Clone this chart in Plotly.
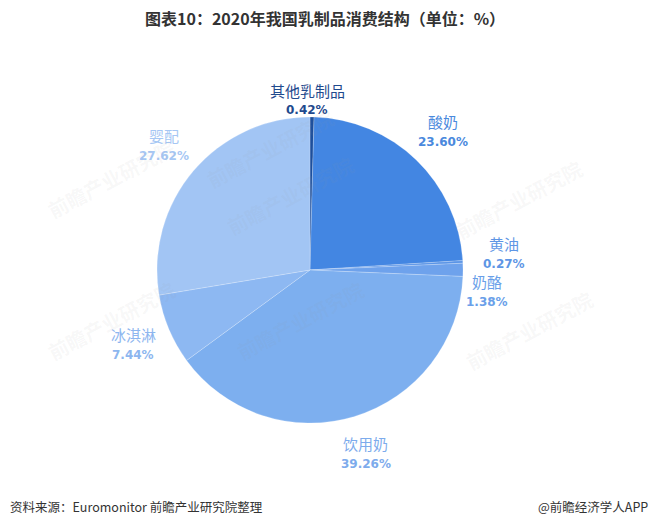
import math
import plotly.graph_objects as go

categories = ["其他乳制品", "酸奶", "黄油", "奶酪", "饮用奶", "冰淇淋", "婴配"]
values = [0.42, 23.60, 0.27, 1.38, 39.26, 7.44, 27.62]
pct_labels = ["0.42%", "23.60%", "0.27%", "1.38%", "39.26%", "7.44%", "27.62%"]

slice_colors = ["#1d4f9c", "#4386e2", "#5a94e6", "#6ea2ec", "#7dafef", "#8db8f2", "#a2c5f4"]
label_colors = ["#1f4a8e", "#4a89dd", "#5e96e5", "#6a9fe9", "#7dabec", "#8db6ef", "#a6c7f4"]

W, H = 654, 526
cx, cy, R = 310, 270, 153

fig = go.Figure()
fig.add_trace(go.Pie(
    labels=categories, values=values, sort=False, direction="clockwise", rotation=0,
    marker=dict(colors=slice_colors, line=dict(color="rgba(255,255,255,0.35)", width=0.6)),
    textinfo="none", hoverinfo="label+percent", showlegend=False,
    domain=dict(x=[(cx - R) / W, (cx + R) / W], y=[1 - (cy + R) / H, 1 - (cy - R) / H]),
))

# label placement computed from slice mid-angles
nudge = {0: (0, 0, 170), 2: (0, -6, 194), 3: (-4, 22, 181)}
total = sum(values)
cum = 0.0
annotations = []
for i, (cat, v) in enumerate(zip(categories, values)):
    mid = (cum + v / 2) / total * 2 * math.pi
    cum += v
    dx, dy, r = nudge.get(i, (0, 0, 192))
    px = cx + r * math.sin(mid) + dx
    py = cy - r * math.cos(mid) + dy
    if i == 0:
        px, py = cx - 5 + r * math.sin(mid), cy - r
    annotations.append(dict(x=px / W, y=1 - (py - 10) / H, xref="paper", yref="paper",
                            text=cat, showarrow=False, xanchor="center", yanchor="middle",
                            font=dict(family="Noto Sans CJK SC", size=15, color=label_colors[i])))
    annotations.append(dict(x=px / W, y=1 - (py + 10) / H, xref="paper", yref="paper",
                            text="<b>" + pct_labels[i] + "</b>", showarrow=False,
                            xanchor="center", yanchor="middle",
                            font=dict(family="DejaVu Sans", size=12, color=label_colors[i])))

# faint watermarks
for wx, wy in [(40, 130), (290, 195), (590, 200), (40, 320), (300, 320), (270, 100), (600, 330)]:
    annotations.append(dict(x=wx / W, y=1 - wy / H, xref="paper", yref="paper",
                            text="<b>前瞻产业研究院</b>", showarrow=False, textangle=-28,
                            font=dict(family="Noto Sans CJK SC", size=20, color="rgba(150,150,150,0.07)")))

annotations.append(dict(x=325 / W, y=1 - 18 / H, xref="paper", yref="paper",
                        text="<b>图表10：2020年我国乳制品消费结构（单位：%）</b>", showarrow=False,
                        xanchor="center", yanchor="middle",
                        font=dict(family="Noto Sans CJK SC", size=16, color="#333333")))
annotations.append(dict(x=8 / W, y=1 - 506 / H, xref="paper", yref="paper",
                        text="资料来源：Euromonitor 前瞻产业研究院整理", showarrow=False,
                        xanchor="left", yanchor="middle",
                        font=dict(family="Noto Sans CJK SC", size=12.5, color="#333333")))
annotations.append(dict(x=650 / W, y=1 - 506 / H, xref="paper", yref="paper",
                        text="@前瞻经济学人APP", showarrow=False,
                        xanchor="right", yanchor="middle",
                        font=dict(family="Noto Sans CJK SC", size=12.5, color="#333333")))

fig.update_layout(
    width=W, height=H, margin=dict(l=0, r=0, t=0, b=0),
    paper_bgcolor="white", plot_bgcolor="white",
    annotations=annotations,
)
fig.write_html("out.html", config={"displayModeBar": False},
               post_script="document.body.style.margin='0';document.body.style.overflow='hidden';")
